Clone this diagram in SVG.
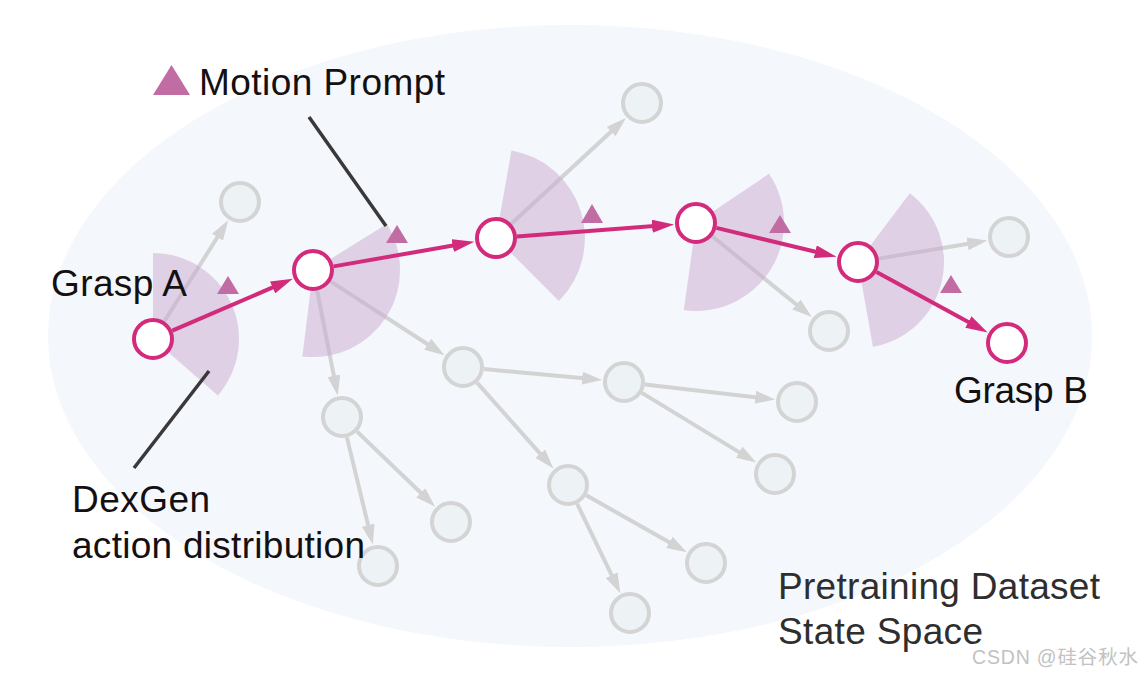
<svg xmlns="http://www.w3.org/2000/svg" width="1144" height="678" viewBox="0 0 1144 678">
<style>
.lbl{font-family:"Liberation Sans",Arial,Helvetica,sans-serif;font-size:37px;fill:#141010}
.lbl2{font-family:"Liberation Sans",Arial,Helvetica,sans-serif;font-size:37px;fill:#2e2e2e}
.wm{font-family:"Liberation Sans","Noto Sans CJK SC",sans-serif;font-size:19.5px;fill:#c2c2c2}
.g{stroke:#d3d3d3;stroke-width:4;fill:none;marker-end:url(#ag)}
.p{stroke:#d22b7c;stroke-width:4;fill:none;marker-end:url(#ap)}
.gn{fill:#edf3f5;stroke:#d4d4d4;stroke-width:4}
.pn{fill:#ffffff;stroke:#d42a7c;stroke-width:4}
.w{fill:#c9aacf;fill-opacity:0.5}
.t{fill:#c16da4}
.lead{stroke:#3a3838;stroke-width:3.5;fill:none}
</style>
<defs>
<marker id="ap" markerUnits="userSpaceOnUse" markerWidth="22" markerHeight="13" refX="12" refY="6.5" orient="auto"><path d="M0,0 L22,6.5 L0,13 z" fill="#d22b7c"/></marker>
<marker id="ag" markerUnits="userSpaceOnUse" markerWidth="20" markerHeight="13" refX="10" refY="6.5" orient="auto"><path d="M0,0 L20,6.5 L0,13 z" fill="#d3d3d3"/></marker>
</defs>
<ellipse id="state-space" cx="570" cy="336" rx="522" ry="311" fill="#f4f7fc"/>
<g id="connectors">
<g id="gray-edges">
<line class="g" x1="164.3" y1="321.3" x2="222.8" y2="228.8"/>
<line class="g" x1="317.1" y1="290.6" x2="335.8" y2="385.6"/>
<line class="g" x1="330.6" y1="281.4" x2="436.1" y2="349.7"/>
<line class="g" x1="511.4" y1="223.7" x2="618.5" y2="124.8"/>
<line class="g" x1="712.3" y1="236.2" x2="804.1" y2="310.8"/>
<line class="g" x1="878.7" y1="258.6" x2="977.4" y2="242.2"/>
<line class="g" x1="483.9" y1="369.0" x2="592.1" y2="379.1"/>
<line class="g" x1="477.0" y1="382.7" x2="546.8" y2="461.1"/>
<line class="g" x1="644.9" y1="384.4" x2="765.2" y2="398.4"/>
<line class="g" x1="641.9" y1="392.9" x2="747.7" y2="457.4"/>
<line class="g" x1="357.1" y1="431.6" x2="428.0" y2="499.8"/>
<line class="g" x1="346.9" y1="437.4" x2="370.5" y2="534.9"/>
<line class="g" x1="586.3" y1="495.3" x2="678.1" y2="547.3"/>
<line class="g" x1="577.2" y1="503.9" x2="616.0" y2="584.2"/>
</g>
</g>
<g id="action-distributions">
<path class="w" d="M153,339 L153,253 A86,86 0 0 1 217.9,395.4 Z"/>
<path class="w" d="M313,270 L386.8,223.9 A87,87 0 0 1 302.4,356.4 Z"/>
<path class="w" d="M496,238 L511.5,150.4 A89,89 0 0 1 558.9,300.9 Z"/>
<path class="w" d="M696,223 L769,173.8 A88,88 0 0 1 683.8,310.1 Z"/>
<path class="w" d="M858,262 L909.8,193.3 A86,86 0 0 1 872.9,346.7 Z"/>
</g>
<g id="pink-connectors">
<line class="p" x1="172.3" y1="330.7" x2="283.6" y2="282.7"/>
<line class="p" x1="333.7" y1="266.4" x2="464.5" y2="243.5"/>
<line class="p" x1="517.0" y1="236.4" x2="664.1" y2="225.3"/>
<line class="p" x1="716.4" y1="227.9" x2="826.9" y2="254.5"/>
<line class="p" x1="876.5" y1="272.0" x2="978.9" y2="327.7"/>
</g>
<g id="leaders">
<line class="lead" x1="309" y1="117" x2="386" y2="226"/>
<line class="lead" x1="209" y1="371" x2="134" y2="468"/>
</g>
<g id="gray-nodes">
<g id="s1"><circle class="gn" cx="240" cy="202" r="19"/></g>
<g id="s2"><circle class="gn" cx="642" cy="103" r="19"/></g>
<g id="s3"><circle class="gn" cx="1009" cy="237" r="19"/></g>
<g id="s4"><circle class="gn" cx="829" cy="331" r="19"/></g>
<g id="s5"><circle class="gn" cx="463" cy="367" r="19"/></g>
<g id="s6"><circle class="gn" cx="624" cy="382" r="19"/></g>
<g id="s7"><circle class="gn" cx="797" cy="402" r="19"/></g>
<g id="s8"><circle class="gn" cx="775" cy="474" r="19"/></g>
<g id="s9"><circle class="gn" cx="342" cy="417" r="19"/></g>
<g id="s10"><circle class="gn" cx="451" cy="522" r="19"/></g>
<g id="s11"><circle class="gn" cx="568" cy="485" r="19"/></g>
<g id="s12"><circle class="gn" cx="706" cy="563" r="19"/></g>
<g id="s13"><circle class="gn" cx="378" cy="566" r="19"/></g>
<g id="s14"><circle class="gn" cx="630" cy="613" r="19"/></g>
</g>
<g id="path-nodes">
<g id="grasp-a"><circle class="pn" cx="153" cy="339" r="19"/><text class="lbl" x="51" y="296" textLength="136">Grasp A</text></g>
<g id="p1"><circle class="pn" cx="313" cy="270" r="19"/></g>
<g id="p2"><circle class="pn" cx="496" cy="238" r="19"/></g>
<g id="p3"><circle class="pn" cx="696" cy="223" r="19"/></g>
<g id="p4"><circle class="pn" cx="858" cy="262" r="19"/></g>
<g id="grasp-b"><circle class="pn" cx="1007" cy="343" r="19"/><text class="lbl" x="954" y="403" textLength="134">Grasp B</text></g>
</g>
<g id="motion-prompts">
<polygon class="t" points="228,276 217,294 239,294"/>
<polygon class="t" points="397,225 386,243 408,243"/>
<polygon class="t" points="592,204 581,223 603,223"/>
<polygon class="t" points="780,215 769,233 791,233"/>
<polygon class="t" points="951,275 940,293 962,293"/>
</g>
<g id="legend">
<polygon class="t" points="171.5,65 153,95 190,95"/>
<text class="lbl" x="199" y="95" textLength="246">Motion Prompt</text>
</g>
<g id="dexgen-label">
<text class="lbl" x="72" y="512" textLength="138">DexGen</text>
<text class="lbl" x="72" y="558" textLength="293">action distribution</text>
</g>
<g id="dataset-label">
<text class="lbl2" x="778" y="599" textLength="322">Pretraining Dataset</text>
<text class="lbl2" x="778" y="644" textLength="205">State Space</text>
</g>
<text class="wm" x="972" y="664" textLength="166">CSDN @硅谷秋水</text>
</svg>
